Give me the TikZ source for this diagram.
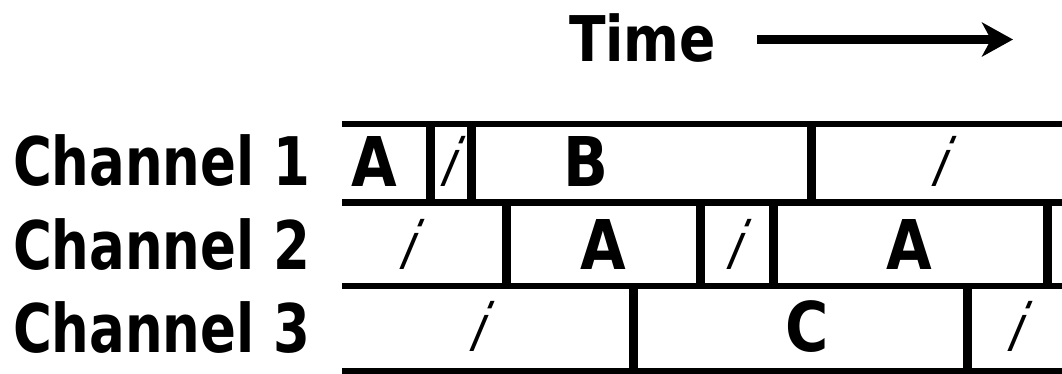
\documentclass[tikz,border=0pt]{standalone}
\usepackage{fontspec}
\usetikzlibrary{arrows.meta}
\newfontfamily\chfont{DejaVu Sans}[FakeStretch=0.79]
\newfontfamily\bxfont{DejaVu Sans}[FakeStretch=0.86]
\newfontfamily\tmfont{DejaVu Sans}[FakeStretch=0.85]
\newfontfamily\ifont{DejaVu Sans}[FakeStretch=0.7,FakeSlant=0.42]
\begin{document}
\begin{tikzpicture}[x=1pt,y=-1pt,
  hline/.style={line width=6.5pt},
  vline/.style={line width=9pt},
  chlabel/.style={anchor=base west, inner sep=0pt, outer sep=0pt, font=\chfont\bfseries\fontsize{67}{70}\selectfont},
  slot/.style={anchor=base, inner sep=0pt, outer sep=0pt, font=\bxfont\bfseries\fontsize{68.6}{70}\selectfont},
  idle/.style={anchor=base, inner sep=0pt, outer sep=0pt, font=\ifont\fontsize{66}{70}\selectfont},
  timelbl/.style={anchor=base west, inner sep=0pt, outer sep=0pt, font=\tmfont\bfseries\fontsize{63}{70}\selectfont},
  timearrow/.style={line width=9pt, -{Stealth[length=31pt,width=34pt,inset=9pt]}}]
\useasboundingbox (0,0) rectangle (1062,373);
% header
\node[timelbl] (time) at (569,61) {Time};
\coordinate (arrowstart) at (757,39.5);
\coordinate (arrowend) at (1013,39.5);
\draw[timearrow] (arrowstart) -- (arrowend);
% channel labels
\node[chlabel] (ch1) at (13,185) {Channel 1};
\node[chlabel] (ch2) at (13,269) {Channel 2};
\node[chlabel] (ch3) at (13,352) {Channel 3};
% grid horizontals
\foreach \y in {124,202.5,286,371}
  \draw[hline] (342,\y) -- (1062,\y);
% row 1 verticals
\foreach \x in {430,471,811.5}
  \draw[vline] (\x,124) -- (\x,202.5);
% row 2 verticals
\foreach \x in {506,700,773.5,1047}
  \draw[vline] (\x,202.5) -- (\x,286);
% row 3 verticals
\foreach \x in {633,967.5}
  \draw[vline] (\x,286) -- (\x,371);
% row 1 slots
\node[slot] (r1a) at (374.5,186.5) {A};
\node[idle] (r1i1) at (443,186.5) {i};
\node[slot] (r1b) at (585.5,186.5) {B};
\node[idle] (r1i2) at (933.5,186.5) {i};
% row 2 slots
\node[idle] (r2i1) at (401.5,269) {i};
\node[slot] (r2a1) at (603.5,269) {A};
\node[idle] (r2i2) at (729,269) {i};
\node[slot] (r2a2) at (909,269) {A};
% row 3 slots
\node[idle] (r3i1) at (471.5,351.5) {i};
\node[slot] (r3c) at (807.5,351.5) {C};
\node[idle] (r3i2) at (1009.5,351.5) {i};
\end{tikzpicture}
\end{document}
